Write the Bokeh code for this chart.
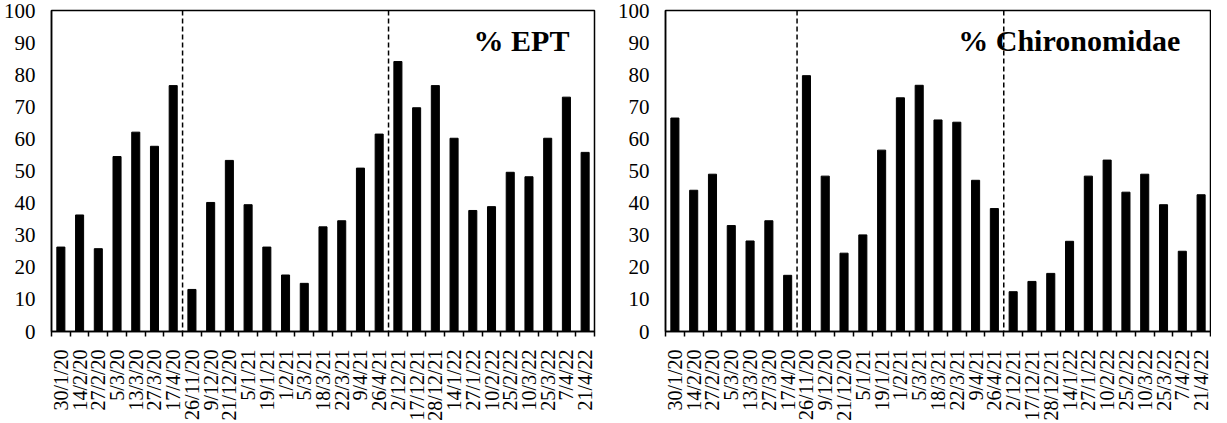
import math
from bokeh.plotting import figure
from bokeh.models import FixedTicker, Span, Label, Range1d
from bokeh.layouts import row
from bokeh.embed import file_html
from bokeh.resources import INLINE

dates = ["30/1/20", "14/2/20", "27/2/20", "5/3/20", "13/3/20", "27/3/20", "17/4/20",
         "26/11/20", "9/12/20", "21/12/20", "5/1/21", "19/1/21", "1/2/21", "5/3/21",
         "18/3/21", "22/3/21", "9/4/21", "26/4/21",
         "2/12/21", "17/12/21", "28/12/21", "14/1/22", "27/1/22", "10/2/22", "25/2/22",
         "10/3/22", "25/3/22", "7/4/22", "21/4/22"]

ept = [26.3, 36.3, 25.8, 54.5, 62.1, 57.7, 76.6,
       13.1, 40.2, 53.3, 39.5, 26.3, 17.6, 15.0,
       32.6, 34.5, 50.9, 61.5,
       84.1, 69.7, 76.6, 60.2, 37.7, 38.9, 49.6, 48.2, 60.2, 73.0, 55.8]

chiro = [66.5, 44.0, 49.0, 33.0, 28.2, 34.5, 17.5,
         79.7, 48.4, 24.4, 30.1, 56.5, 72.8, 76.7, 65.9, 65.2, 47.1, 38.3,
         12.4, 15.6, 18.1, 28.1, 48.4, 53.4, 43.4, 49.0, 39.5, 25.0, 42.6]

period_starts = [7, 18]

FONT = "Liberation Serif"


def make(values, title, w, bl, br, title_x):
    n = len(dates)
    xs = list(range(n))
    p = figure(width=w, height=423, x_range=Range1d(-0.5, n - 0.5), y_range=Range1d(0, 100),
               output_backend="svg", toolbar_location=None,
               min_border_left=bl, min_border_right=br, min_border_top=10, min_border_bottom=84)
    p.vbar(x=xs, top=values, width=0.43, color="black")
    for s in period_starts:
        p.add_layout(Span(location=s - 0.5, dimension="height", line_color="black",
                          line_dash="5 3", line_width=1.5))
    p.xgrid.visible = False
    p.ygrid.visible = False
    p.outline_line_color = "black"
    p.outline_line_width = 1.5
    p.outline_line_alpha = 1

    xa = p.xaxis[0]
    xa.axis_label = None
    xa.ticker = FixedTicker(ticks=xs, minor_ticks=[i - 0.5 for i in range(n + 1)])
    xa.major_label_overrides = {i: d for i, d in enumerate(dates)}
    xa.major_label_orientation = math.pi / 2
    xa.major_tick_out = 0
    xa.major_tick_in = 0
    xa.minor_tick_out = 5
    xa.minor_tick_in = 0
    xa.minor_tick_line_color = "black"
    xa.minor_tick_line_width = 1.5
    xa.axis_line_color = "black"
    xa.axis_line_width = 1.5
    xa.major_label_text_font = FONT
    xa.major_label_text_font_size = "20px"
    xa.major_label_text_color = "black"
    xa.major_label_standoff = 13

    ya = p.yaxis[0]
    ya.axis_label = None
    ya.ticker = FixedTicker(ticks=list(range(0, 101, 10)))
    ya.major_tick_out = 0
    ya.major_tick_in = 0
    ya.minor_tick_out = 0
    ya.minor_tick_in = 0
    ya.axis_line_color = "black"
    ya.axis_line_width = 1.5
    ya.major_label_text_font = FONT
    ya.major_label_text_font_size = "21px"
    ya.major_label_text_color = "black"
    ya.major_label_standoff = 16

    p.add_layout(Label(x=title_x, y=90.8, text=title,
                       text_font=FONT, text_font_style="bold", text_font_size="30px",
                       text_align="right", text_baseline="middle", text_color="black"))
    return p


p1 = make(ept, "% EPT", 608, 49, 14, 27.16)
p2 = make(chiro, "% Chironomidae", 603, 57, 1, 26.89)
p = row(p1, p2)

open("out.html", "w").write(file_html(p, INLINE))
